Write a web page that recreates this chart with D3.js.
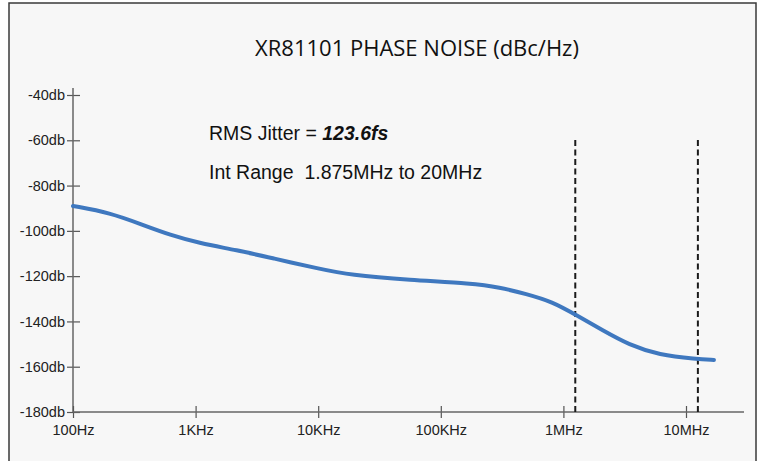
<!DOCTYPE html>
<html>
<head>
<meta charset="utf-8">
<script src="https://cdn.jsdelivr.net/npm/d3@7"></script>
<style>
  html, body { margin: 0; padding: 0; background: #ffffff; }
  svg { display: block; }
</style>
</head>
<body>
<svg id="chart" width="760" height="461"></svg>
<script>
// ---- Data ----
const title = "XR81101 PHASE NOISE (dBc/Hz)";
const freqHz = [100, 200, 372, 617, 1080, 2160, 4250, 10300, 18000, 55500, 181000, 300000, 498000, 811000, 1270000, 2070000, 3440000, 6030000, 12100000, 16900000];
const noiseDb = [-89.0, -92.0, -97.4, -101.8, -105.5, -108.5, -112.1, -116.8, -119.5, -121.7, -123.2, -124.9, -127.9, -131.3, -137.2, -143.8, -150.4, -154.8, -156.6, -157.0];
const xTickValues = [100, 1000, 10000, 100000, 1000000, 10000000];
const xTickLabels = ["100Hz", "1KHz", "10KHz", "100KHz", "1MHz", "10MHz"];
const yTickValues = [-40, -60, -80, -100, -120, -140, -160, -180];
const yTickLabels = ["-40db", "-60db", "-80db", "-100db", "-120db", "-140db", "-160db", "-180db"];
const markerFreqs = [1250000, 12500000];
const annoLine1 = ["RMS Jitter = ", "123.6fs"];
const annoLine2 = "Int Range  1.875MHz to 20MHz";

// ---- Layout ----
const svg = d3.select("#chart");
const x0 = 73, y0 = 412, decade = 122.6;

const x = d3.scaleLog().domain([100, 1e7]).range([x0, x0 + 5 * decade]);
const y = d3.scaleLinear().domain([-180, -40]).range([y0, 95]);

// Frame
svg.append("rect")
  .attr("x", 9).attr("y", 3).attr("width", 747).attr("height", 470)
  .attr("fill", "#f7f7f7").attr("stroke", "#3a3a3a").attr("stroke-width", 1.5);

// Title
svg.append("text")
  .attr("x", 417).attr("y", 56)
  .attr("text-anchor", "middle")
  .attr("font-family", "'Open Sans', sans-serif")
  .attr("font-size", 22)
  .attr("fill", "#111")
  .text(title);

const labelFont = "'Liberation Sans', Arial, sans-serif";

// Y axis
const yAxis = d3.axisLeft(y)
  .tickValues(yTickValues)
  .tickSize(6)
  .tickFormat((d, i) => yTickLabels[i]);
const gy = svg.append("g").attr("transform", `translate(${x0},0)`).call(yAxis)
  .attr("font-size", 14.5).attr("font-family", labelFont);
gy.select(".domain").remove();
gy.append("line").attr("x1", 0).attr("x2", 0).attr("y1", 88).attr("y2", y0)
  .attr("stroke", "#666").attr("stroke-width", 1.5);
gy.selectAll(".tick line").attr("x1", -6).attr("x2", 7).attr("stroke", "#555").attr("stroke-width", 1.2);
gy.selectAll(".tick text")
  .attr("x", -8)
  .style("font-size", "14.5px")
  .attr("fill", "#222");

// X axis
const xAxis = d3.axisBottom(x)
  .tickValues(xTickValues)
  .tickSize(6)
  .tickFormat((d, i) => xTickLabels[i]);
const gx = svg.append("g").attr("transform", `translate(0,${y0})`).call(xAxis)
  .attr("font-size", 14.5).attr("font-family", labelFont);
gx.select(".domain").remove();
gx.append("line").attr("x1", x0).attr("x2", 744).attr("y1", 0).attr("y2", 0)
  .attr("stroke", "#666").attr("stroke-width", 1.5);
gx.selectAll(".tick line").attr("y1", -6).attr("y2", 6).attr("stroke", "#555").attr("stroke-width", 1.2);
gx.selectAll(".tick text")
  .attr("y", 13)
  .style("font-size", "14.5px")
  .attr("fill", "#222");

// Marker dashed lines
svg.selectAll(".marker").data(markerFreqs).enter().append("line")
  .attr("class", "marker")
  .attr("x1", d => x(d)).attr("x2", d => x(d))
  .attr("y1", 140).attr("y2", y0)
  .attr("stroke", "#1a1a1a").attr("stroke-width", 2)
  .attr("stroke-dasharray", "6,3.5");

// Curve
const pts = freqHz.map((f, i) => [f, noiseDb[i]]);
const line = d3.line().x(d => x(d[0])).y(d => y(d[1])).curve(d3.curveBasis);
svg.append("path").datum(pts)
  .attr("d", line)
  .attr("fill", "none")
  .attr("stroke", "#3f78bf")
  .attr("stroke-width", 4)
  .attr("stroke-linecap", "round")
  .attr("stroke-linejoin", "round");

// Annotations
const t1 = svg.append("text")
  .attr("x", 209).attr("y", 140)
  .attr("font-family", labelFont)
  .attr("font-size", 19.5)
  .attr("fill", "#111")
  .attr("xml:space", "preserve")
  .style("white-space", "pre");
t1.append("tspan").text(annoLine1[0]);
t1.append("tspan").attr("font-weight", "bold").attr("font-style", "italic").text(annoLine1[1]);

svg.append("text")
  .attr("x", 209).attr("y", 179)
  .attr("font-family", labelFont)
  .attr("font-size", 19.5)
  .attr("fill", "#111")
  .attr("xml:space", "preserve")
  .style("white-space", "pre")
  .text(annoLine2);
</script>
</body>
</html>
